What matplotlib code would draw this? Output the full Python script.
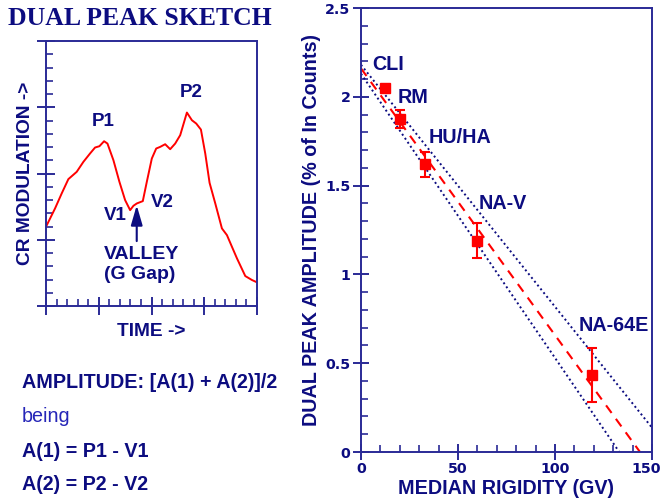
import numpy as np
import matplotlib
matplotlib.use("Agg")
import matplotlib.pyplot as plt
import matplotlib.transforms as mtransforms
from matplotlib.ticker import MultipleLocator

# ---------------- data ----------------
# left sketch curve (arbitrary time / modulation units)
sketch_t = [0.0, 0.171, 0.297, 0.424, 0.582, 0.709, 0.835, 0.93, 1.013, 1.101, 1.165,
            1.278, 1.392, 1.5, 1.595, 1.658, 1.722, 1.835, 1.911, 2.006, 2.089, 2.165,
            2.259, 2.354, 2.449, 2.544, 2.671, 2.766, 2.848, 2.937, 3.019, 3.101, 3.209,
            3.335, 3.43, 3.525, 3.62, 3.778, 3.905, 4.0]
sketch_m = [1.196, 1.472, 1.698, 1.915, 2.025, 2.176, 2.302, 2.392, 2.412, 2.487, 2.452,
            2.201, 1.874, 1.598, 1.447, 1.513, 1.548, 1.583, 1.874, 2.226, 2.377, 2.402,
            2.442, 2.367, 2.452, 2.578, 2.92, 2.804, 2.754, 2.663, 2.302, 1.859, 1.548,
            1.171, 1.07, 0.894, 0.719, 0.452, 0.392, 0.357]

# right panel: stations
stations = ["CLI", "RM", "HU/HA", "NA-V", "NA-64E"]
rigidity = [12.4, 20.0, 33.0, 60.0, 119.0]
amplitude = [2.05, 1.875, 1.62, 1.19, 0.433]
amp_err = [0.015, 0.05, 0.07, 0.10, 0.15]

# regression line and its confidence band (intercept, slope)
fit_line = (2.16, -0.01502)
band_upper = (2.18, -0.01362)
band_lower = (2.13, -0.01600)

x_ticks = [0, 50, 100, 150]
y_ticks = [0, 0.5, 1, 1.5, 2, 2.5]
x_ticklabels = ["0", "50", "100", "150"]
y_ticklabels = ["0", "0.5", "1", "1.5", "2", "2.5"]

NAVY = "#0c0c80"
SPINE = "#2a2a96"
RED = "#ff0000"
SANS = ["Liberation Sans", "DejaVu Sans"]

fig = plt.figure(figsize=(6.66, 5.03), dpi=100)

# ---------------- left panel ----------------
axl = fig.add_axes([46 / 666, 1 - 306 / 503, 211 / 666, 265 / 503])
axl.plot(sketch_t, sketch_m, color=RED, lw=1.4)
axl.set_xlim(0, 4)
axl.set_ylim(0, 4)
axl.xaxis.set_major_locator(MultipleLocator(1))
axl.xaxis.set_minor_locator(MultipleLocator(0.2))
axl.yaxis.set_major_locator(MultipleLocator(1))
axl.yaxis.set_minor_locator(MultipleLocator(0.2))
axl.tick_params(which="major", direction="inout", length=13, width=1.4, color=SPINE,
                labelbottom=False, labelleft=False)
axl.tick_params(which="minor", direction="in", length=5, width=1.2, color=SPINE)
for s in axl.spines.values():
    s.set_color(SPINE)
    s.set_linewidth(1.4)
axl.set_ylabel("CR MODULATION ->", fontsize=13.8, fontweight="bold", color=NAVY,
               family=SANS, labelpad=2)
axl.set_xlabel("TIME ->", fontsize=13.8, fontweight="bold", color=NAVY,
               family=SANS, labelpad=6)

tk = dict(fontsize=13.5, fontweight="bold", color=NAVY, family=SANS,
          ha="center", va="center")
axl.text(1.08, 2.79, "P1", **tk)
axl.text(2.75, 3.23, "P2", **tk)
axl.text(1.31, 1.37, "V1", **tk)
axl.text(2.21, 1.56, "V2", **tk)
axl.text(1.82, 0.77, "VALLEY", **{**tk, "fontsize": 14})
axl.text(1.78, 0.48, "(G Gap)", **{**tk, "fontsize": 14})
axl.annotate("", xy=(1.72, 1.52), xytext=(1.72, 0.98),
             arrowprops=dict(arrowstyle="-|>,head_length=1.2,head_width=0.35",
                             color=NAVY, lw=1.5, shrinkA=0, shrinkB=0))

fig.text(140 / 666, 1 - 25 / 503, "DUAL PEAK SKETCH", fontsize=18.5, fontweight="bold",
         color=NAVY, family=["Liberation Serif", "DejaVu Serif"], ha="center",
         va="baseline")

fig.text(22 / 666, 1 - 388 / 503, "AMPLITUDE: [A(1) + A(2)]/2", fontsize=14.2,
         fontweight="bold", color=NAVY, family=SANS, va="baseline")
fig.text(22 / 666, 1 - 422 / 503, "being", fontsize=14.2, color="#2626b8",
         family=SANS, va="baseline")
fig.text(22 / 666, 1 - 457 / 503, "A(1) = P1 - V1", fontsize=14.2,
         fontweight="bold", color=NAVY, family=SANS, va="baseline")
fig.text(22 / 666, 1 - 490 / 503, "A(2) = P2 - V2", fontsize=14.2,
         fontweight="bold", color=NAVY, family=SANS, va="baseline")

# ---------------- right panel ----------------
axr = fig.add_axes([361 / 666, 1 - 452 / 503, 291 / 666, 444 / 503])
xmax = 150


def line_xy(params):
    b, m = params
    xend = min(xmax, -b / m)
    xs = np.linspace(0, xend, 50)
    return xs, b + m * xs


xs, ys = line_xy(band_upper)
axr.plot(xs, ys, color=NAVY, lw=1.4, ls=(0, (1, 1.5)))
xs, ys = line_xy(band_lower)
axr.plot(xs, ys, color=NAVY, lw=1.4, ls=(0, (1, 1.5)))
xs, ys = line_xy(fit_line)
axr.plot(xs, ys, color=RED, lw=1.5, ls=(0, (4.5, 3.5)))

axr.errorbar(rigidity, amplitude, yerr=amp_err, fmt="s", color=RED, ms=7.2,
             elinewidth=1.5, capsize=3.5, capthick=1.5)

lab_pos = [(13.9, 2.18), (26.8, 1.995), (51.0, 1.77), (73.2, 1.40), (130.4, 0.715)]
for name, (lx, ly) in zip(stations, lab_pos):
    axr.text(lx, ly, name, fontsize=14.2, fontweight="bold", color=NAVY, family=SANS,
             ha="center", va="center")

axr.set_xlim(0, 150)
axr.set_ylim(0, 2.5)
axr.xaxis.set_minor_locator(MultipleLocator(10))
axr.yaxis.set_minor_locator(MultipleLocator(0.1))
axr.set_xticks(x_ticks)
axr.set_xticklabels(x_ticklabels)
axr.set_yticks(y_ticks)
axr.set_yticklabels(y_ticklabels)
axr.tick_params(which="major", direction="inout", length=12, width=1.4, color=SPINE,
                pad=1.5, labelsize=10.3, labelcolor=NAVY)
axr.tick_params(which="minor", direction="in", length=5, width=1.2, color=SPINE)
for lbl in axr.get_xticklabels() + axr.get_yticklabels():
    lbl.set_fontweight("bold")
    lbl.set_family(["DejaVu Sans"])
# keep the last x tick label inside the canvas
last = axr.get_xticklabels()[-1]
last.set_transform(last.get_transform() +
                   mtransforms.ScaledTranslation(-4 / 72, 0, fig.dpi_scale_trans))
for s in axr.spines.values():
    s.set_color(SPINE)
    s.set_linewidth(1.4)
axr.set_xlabel("MEDIAN RIGIDITY (GV)", fontsize=14.2, fontweight="bold", color=NAVY,
               family=SANS, labelpad=2)
axr.set_ylabel("DUAL PEAK AMPLITUDE (% of In Counts)", fontsize=14.2,
               fontweight="bold", color=NAVY, family=SANS, labelpad=3)

fig.savefig("out.png", dpi=100)
